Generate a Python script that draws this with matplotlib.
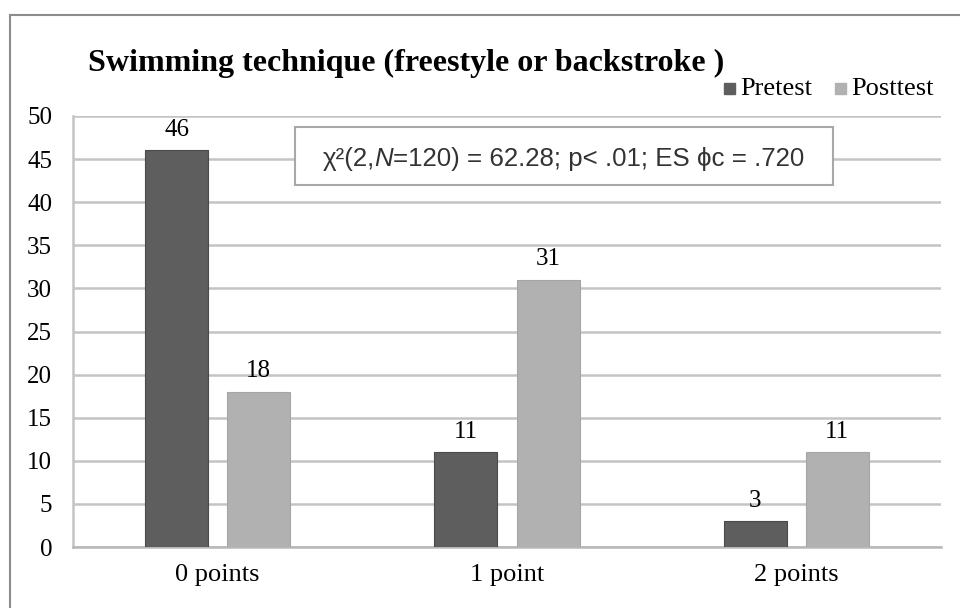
import matplotlib.pyplot as plt
import numpy as np
from matplotlib.patches import Rectangle
from matplotlib.transforms import offset_copy

plt.rcParams['font.family'] = ['Liberation Serif', 'DejaVu Serif']

categories = ['0 points', '1 point', '2 points']
pretest = [46, 11, 3]
posttest = [18, 31, 11]
series_names = ['Pretest', 'Posttest']
yticks = [0, 5, 10, 15, 20, 25, 30, 35, 40, 45, 50]

title = 'Swimming technique (freestyle or backstroke )'
# chi-square note, split so that N can be set in italics
stat_parts = [('χ²(2,', 'normal'), ('N', 'italic'),
              ('=120) = 62.28; p< .01; ES ϕc = .720', 'normal')]

c_pre = '#5e5e5e'
c_post = '#b1b1b1'
grid_c = '#c4c4c4'

fig = plt.figure(figsize=(9.6, 6.08), dpi=100)

# outer chart frame
fig.patches.append(Rectangle((10 / 960, -0.01), 1.0, 1 - 15 / 608 + 0.01,
                             transform=fig.transFigure, fill=False,
                             edgecolor='#8c8c8c', lw=1.5))

ax = fig.add_axes([73 / 960, 1 - 547 / 608, 868 / 960, 431 / 608])

x = np.arange(len(categories))
w = 0.218
off = 0.142
b1 = ax.bar(x - off, pretest, w, color=c_pre, edgecolor='#4a4a4a', lw=0.8, zorder=3)
b2 = ax.bar(x + off, posttest, w, color=c_post, edgecolor='#a5a5a5', lw=0.8, zorder=3)

for bars, vals in ((b1, pretest), (b2, posttest)):
    for r, v in zip(bars, vals):
        ax.text(r.get_x() + r.get_width() / 2, v + 1.1, str(v),
                ha='center', va='bottom', fontsize=18)

ax.set_xlim(-0.5, 2.5)
ax.set_ylim(0, 50)
ax.set_yticks(yticks)
ax.set_xticks(x)
ax.set_xticklabels(categories)
ax.tick_params(axis='both', length=0, labelsize=18)
ax.tick_params(axis='x', labelsize=19, pad=12)
ax.tick_params(axis='y', pad=15)
ax.yaxis.grid(True, color=grid_c, lw=1.8, zorder=0)
for s in ('top', 'right'):
    ax.spines[s].set_visible(False)
ax.spines['left'].set_color(grid_c)
ax.spines['left'].set_linewidth(1.8)
ax.spines['bottom'].set_color('#b8b8b8')
ax.spines['bottom'].set_linewidth(1.8)

# statistics box
ax.add_patch(Rectangle((0.268, 42.0), 2.126 - 0.268, 6.7, fc='white',
                       ec='#a8a8a8', lw=1.5, zorder=5))
renderer = fig.canvas.get_renderer()
dx = 0
for s, style in stat_parts:
    t = ax.text(0.362, 45.3, s, ha='left', va='center_baseline', fontsize=18.6,
                family='Liberation Sans', style=style, color='#333333', zorder=6,
                transform=offset_copy(ax.transData, fig=fig, x=dx, units='dots'))
    dx += t.get_window_extent(renderer).width

fig.text(88 / 960, 1 - 63 / 608, title, fontsize=23, fontweight='bold',
         ha='left', va='center')

# legend
fig.patches.append(Rectangle((724 / 960, 1 - 94 / 608), 11 / 960, 11 / 608,
                             transform=fig.transFigure, color=c_pre))
fig.text(740 / 960, 1 - 89 / 608, series_names[0], fontsize=19, va='center')
fig.patches.append(Rectangle((835 / 960, 1 - 94 / 608), 11 / 960, 11 / 608,
                             transform=fig.transFigure, color=c_post))
fig.text(851 / 960, 1 - 89 / 608, series_names[1], fontsize=19, va='center')

fig.savefig('out.png', dpi=100)
